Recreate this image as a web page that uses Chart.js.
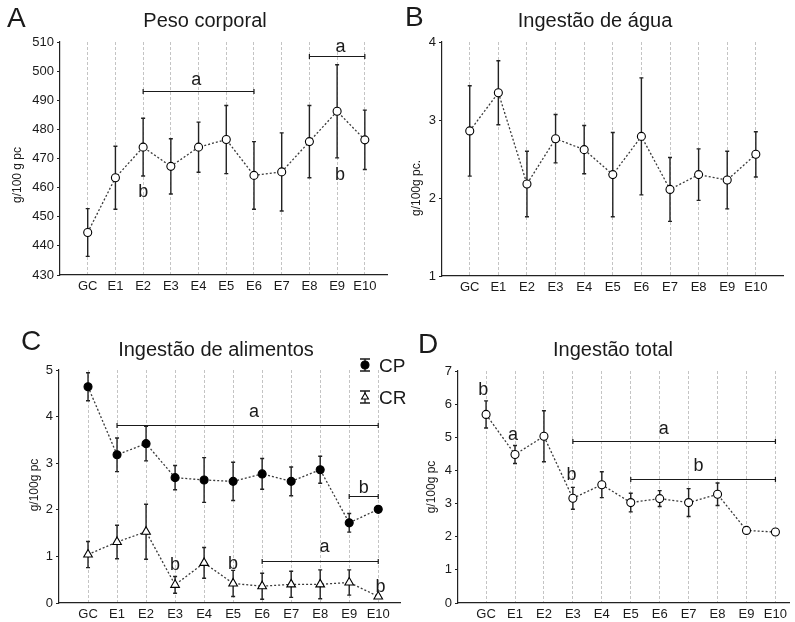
<!DOCTYPE html>
<html>
<head>
<meta charset="utf-8">
<script src="https://cdn.jsdelivr.net/npm/chart.js@4.4.3/dist/chart.umd.min.js"></script>
<style>
  body { margin: 0; background: #fff; }
  #wrap { position: relative; width: 795px; height: 622px; }
  #wrap canvas { position: absolute; }
</style>
</head>
<body>
<div id="wrap">
  <canvas id="cA" width="400" height="300" style="left:0;top:0"></canvas>
  <canvas id="cB" width="395" height="300" style="left:400px;top:0"></canvas>
  <canvas id="cC" width="412" height="322" style="left:0;top:300px"></canvas>
  <canvas id="cD" width="395" height="322" style="left:400px;top:300px"></canvas>
</div>
<script>
const groups = ['GC', 'E1', 'E2', 'E3', 'E4', 'E5', 'E6', 'E7', 'E8', 'E9', 'E10'];

// A - peso corporal
const pesoMean = [444.6, 463.4, 473.9, 467.3, 473.9, 476.5, 464.2, 465.4, 475.8, 486.2, 476.4];
const pesoErr = [8.2, 10.8, 9.9, 9.5, 8.6, 11.7, 11.6, 13.4, 12.4, 16.0, 10.2];
const pesoTicks = [430, 440, 450, 460, 470, 480, 490, 500, 510];
const pesoBrackets = [[2, 6, 493.1], [8, 10, 505.1]];
const pesoLetters = [['a', 3.92, 495.3], ['a', 9.12, 506.7], ['b', 2, 456.9], ['b', 9.1, 462.6]];

// B - ingestão de água
const aguaMean = [2.86, 3.35, 2.18, 2.76, 2.62, 2.30, 2.79, 2.11, 2.30, 2.23, 2.56];
const aguaErr = [0.58, 0.41, 0.42, 0.31, 0.31, 0.54, 0.75, 0.41, 0.33, 0.37, 0.29];
const aguaTicks = [1, 2, 3, 4];

// C - ingestão de alimentos (CP / CR)
const cpMean = [4.64, 3.18, 3.42, 2.69, 2.64, 2.61, 2.77, 2.61, 2.86, 1.72, 2.01];
const cpErr = [0.30, 0.36, 0.37, 0.26, 0.48, 0.41, 0.33, 0.31, 0.29, 0.20, 0.05];
const crMean = [1.04, 1.31, 1.53, 0.39, 0.86, 0.42, 0.36, 0.40, 0.40, 0.44, 0.14];
const crErr = [0.28, 0.36, 0.59, 0.18, 0.33, 0.28, 0.28, 0.28, 0.31, 0.27, 0.04];
const alimTicks = [0, 1, 2, 3, 4, 5];
const alimBrackets = [[1, 10, 3.81], [9, 10, 2.30], [6, 10, 0.91]];
const alimLetters = [['a', 5.72, 4.0], ['b', 9.5, 2.36], ['a', 8.15, 1.10], ['b', 3, 0.70], ['b', 5, 0.72], ['b', 10.08, 0.24]];

// D - ingestão total
const totalMean = [5.69, 4.48, 5.03, 3.16, 3.57, 3.03, 3.15, 3.03, 3.28, 2.19, 2.14];
const totalErr = [0.41, 0.27, 0.77, 0.33, 0.39, 0.28, 0.24, 0.42, 0.34, 0.05, 0.04];
const totalTicks = [0, 1, 2, 3, 4, 5, 6, 7];
const totalBrackets = [[3, 10, 4.89], [5, 10, 3.75]];
const totalLetters = [['b', -0.1, 6.27], ['a', 0.93, 4.91], ['b', 2.95, 3.70], ['a', 6.14, 5.11], ['b', 7.34, 3.97]];

const FONT = "'Liberation Sans', Arial, Helvetica, sans-serif";
const INK = '#1a1a1a';

function errBar(ctx, x, top, bot, cap) {
  ctx.beginPath();
  ctx.moveTo(x, top); ctx.lineTo(x, bot);
  ctx.moveTo(x - cap, top); ctx.lineTo(x + cap, top);
  ctx.moveTo(x - cap, bot); ctx.lineTo(x + cap, bot);
  ctx.stroke();
}

// error bars under the points, labels/brackets/titles on top
const panelDeco = {
  id: 'panelDeco',
  beforeDatasetsDraw(chart, args, opts) {
    const { ctx, scales: { x, y } } = chart;
    ctx.save();
    ctx.strokeStyle = '#222';
    ctx.lineWidth = 1.4;
    (opts.errors || []).forEach((errs, di) => {
      chart.data.datasets[di].data.forEach((p, i) => {
        const e = errs[i];
        errBar(ctx, x.getPixelForValue(p.x), y.getPixelForValue(p.y + e), y.getPixelForValue(p.y - e), 2);
      });
    });
    ctx.restore();
  },
  afterDraw(chart, args, opts) {
    const { ctx, scales: { x, y } } = chart;
    ctx.save();
    ctx.fillStyle = INK;
    ctx.strokeStyle = INK;

    ctx.textBaseline = 'alphabetic';
    ctx.textAlign = 'left';
    ctx.font = `28px ${FONT}`;
    ctx.fillText(opts.letter.text, opts.letter.x, opts.letter.y);

    ctx.textAlign = 'center';
    ctx.font = `20px ${FONT}`;
    ctx.fillText(opts.title.text, opts.title.x, opts.title.y);

    ctx.save();
    ctx.translate(opts.yTitle.x, opts.yTitle.y);
    ctx.rotate(-Math.PI / 2);
    ctx.textBaseline = 'middle';
    ctx.font = `12px ${FONT}`;
    ctx.fillText(opts.yTitle.text, 0, 0);
    ctx.restore();

    ctx.lineWidth = 1.2;
    (opts.brackets || []).forEach(([a, b, v]) => {
      const py = Math.round(y.getPixelForValue(v)) + 0.5;
      const x1 = x.getPixelForValue(a), x2 = x.getPixelForValue(b);
      ctx.beginPath();
      ctx.moveTo(x1, py); ctx.lineTo(x2, py);
      ctx.moveTo(x1, py - 2.5); ctx.lineTo(x1, py + 2.5);
      ctx.moveTo(x2, py - 2.5); ctx.lineTo(x2, py + 2.5);
      ctx.stroke();
    });

    ctx.font = `18px ${FONT}`;
    ctx.textAlign = 'center';
    (opts.letters || []).forEach(([t, xi, v]) => {
      ctx.fillText(t, x.getPixelForValue(xi), y.getPixelForValue(v));
    });

    if (opts.legend) {
      const lg = opts.legend;
      lg.items.forEach((it, k) => {
        const cx = lg.x, cy = lg.y + k * lg.gap;
        ctx.lineWidth = 1.3;
        ctx.strokeStyle = INK;
        errBar(ctx, cx, cy - 6, cy + 6, 5);
        ctx.fillStyle = it.fill;
        ctx.strokeStyle = '#000';
        ctx.lineWidth = 1.1;
        Chart.helpers.drawPoint(ctx, { pointStyle: it.shape, radius: it.radius, borderWidth: 1.1, rotation: 0 }, cx, cy);
        ctx.fillStyle = INK;
        ctx.textAlign = 'left';
        ctx.font = `19px ${FONT}`;
        ctx.fillText(it.label, cx + 14, cy + 7);
      });
    }
    ctx.restore();
  }
};

function makePanel(id, cfg) {
  return new Chart(document.getElementById(id), {
    type: 'line',
    data: {
      datasets: cfg.series.map(s => ({
        data: s.mean.map((v, i) => ({ x: i, y: v })),
        borderColor: '#3a3a3a',
        borderWidth: 1.3,
        borderDash: [2, 2],
        pointStyle: s.shape,
        pointRadius: s.radius,
        pointBackgroundColor: s.fill,
        pointBorderColor: '#000',
        pointBorderWidth: 1.1,
        tension: 0,
        fill: false
      }))
    },
    options: {
      responsive: false,
      animation: false,
      events: [],
      layout: { padding: cfg.pad },
      plugins: {
        legend: { display: false },
        tooltip: { enabled: false },
        panelDeco: {
          errors: cfg.series.map(s => s.err),
          title: cfg.title,
          letter: cfg.letter,
          yTitle: cfg.yTitle,
          brackets: cfg.brackets,
          letters: cfg.letters,
          legend: cfg.legend
        }
      },
      scales: {
        x: {
          type: 'linear',
          min: cfg.xMin,
          max: cfg.xMax,
          afterBuildTicks: s => { s.ticks = groups.map((g, i) => ({ value: i })); },
          afterFit: s => { s.height = cfg.xh; },
          ticks: { callback: v => groups[v], autoSkip: false, maxRotation: 0, padding: 4,
                   color: INK, font: { size: 13, family: FONT } },
          grid: { color: '#c4c4c4', lineWidth: 1, drawTicks: false },
          border: { color: '#222', width: 1.2, dash: [3, 2] }
        },
        y: {
          min: cfg.yTicks[0],
          max: cfg.yTicks[cfg.yTicks.length - 1],
          afterBuildTicks: s => { s.ticks = cfg.yTicks.map(v => ({ value: v })); },
          afterFit: s => { s.width = cfg.yw; },
          ticks: { padding: 3, color: INK, font: { size: 13, family: FONT } },
          grid: { drawOnChartArea: false, drawTicks: true, tickLength: 3, tickColor: '#222' },
          border: { color: '#222', width: 1.2 }
        }
      }
    },
    plugins: [panelDeco]
  });
}

const openDot = { shape: 'circle', radius: 4, fill: '#fff' };

makePanel('cA', {
  series: [{ ...openDot, mean: pesoMean, err: pesoErr }],
  yTicks: pesoTicks, xMin: -1, xMax: 10.8,
  pad: { left: 0, top: 42, right: 13, bottom: 0 }, yw: 60, xh: 25,
  title: { text: 'Peso corporal', x: 205, y: 27 },
  letter: { text: 'A', x: 7, y: 27 },
  yTitle: { text: 'g/100 g pc', x: 18, y: 175 },
  brackets: pesoBrackets, letters: pesoLetters
});

makePanel('cB', {
  series: [{ ...openDot, mean: aguaMean, err: aguaErr }],
  yTicks: aguaTicks, xMin: -0.97, xMax: 10.95,
  pad: { left: 0, top: 42, right: 12, bottom: 0 }, yw: 42, xh: 24,
  title: { text: 'Ingestão de água', x: 195, y: 27 },
  letter: { text: 'B', x: 5, y: 26 },
  yTitle: { text: 'g/100g pc.', x: 17, y: 188 }
});

// canvas is a little wider than the panel so the legend text can run past x=400
makePanel('cC', {
  series: [
    { shape: 'circle', radius: 4, fill: '#000', mean: cpMean, err: cpErr },
    { shape: 'triangle', radius: 5, fill: '#fff', mean: crMean, err: crErr }
  ],
  yTicks: alimTicks, xMin: -1, xMax: 10.75,
  pad: { left: 0, top: 70, right: 12, bottom: 0 }, yw: 59, xh: 19,
  title: { text: 'Ingestão de alimentos', x: 216, y: 56 },
  letter: { text: 'C', x: 21, y: 50 },
  yTitle: { text: 'g/100g pc', x: 35, y: 185 },
  brackets: alimBrackets, letters: alimLetters,
  legend: { x: 365, y: 65, gap: 32, items: [
    { label: 'CP', shape: 'circle', radius: 4, fill: '#000' },
    { label: 'CR', shape: 'triangle', radius: 4, fill: '#fff' }
  ] }
});

makePanel('cD', {
  series: [{ ...openDot, mean: totalMean, err: totalErr }],
  yTicks: totalTicks, xMin: -0.97, xMax: 10.5,
  pad: { left: 0, top: 71, right: 2, bottom: 0 }, yw: 58, xh: 19,
  title: { text: 'Ingestão total', x: 213, y: 56 },
  letter: { text: 'D', x: 18, y: 53 },
  yTitle: { text: 'g/100g pc', x: 32, y: 187 },
  brackets: totalBrackets, letters: totalLetters
});
</script>
</body>
</html>
